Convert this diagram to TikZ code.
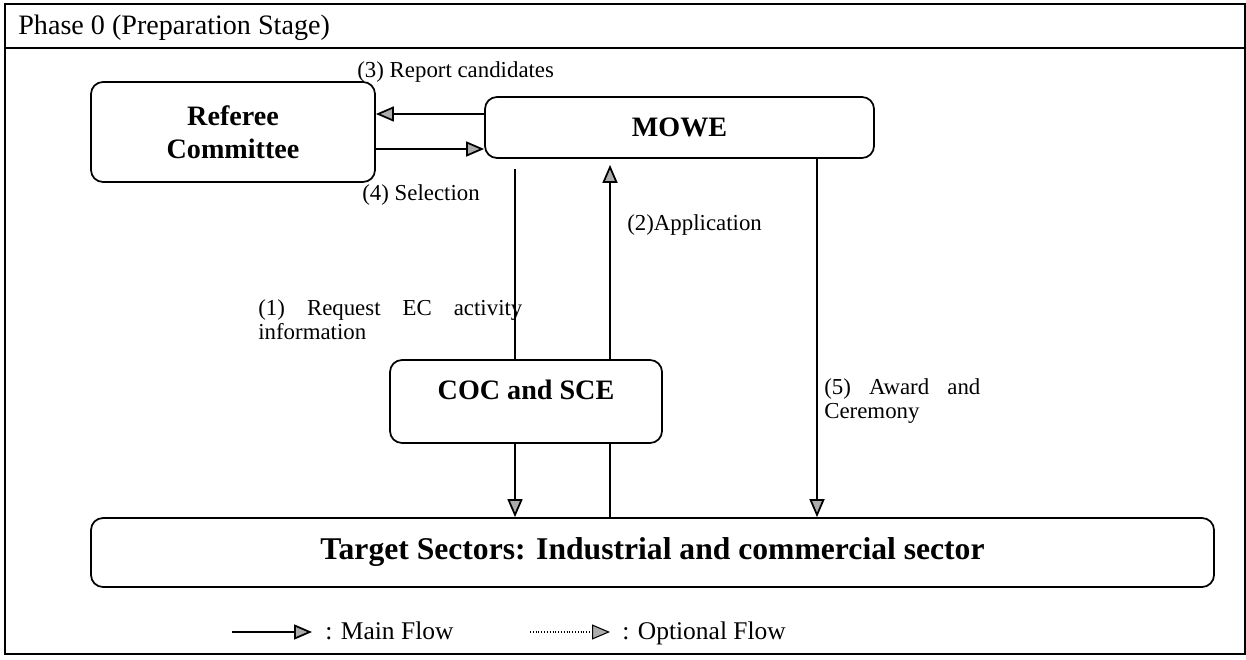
\documentclass[tikz,border=0pt]{standalone}
\usepackage{fontspec}
\setmainfont{Liberation Serif}
\usetikzlibrary{arrows.meta}
\tikzset{
  box/.style={draw, line width=1pt, rounded corners=0.24cm, inner sep=0pt,
    font=\fontsize{16}{19}\selectfont\bfseries, align=center},
  flow/.style={line width=1pt, -{Triangle[length=0.36cm,width=0.3cm,fill=gray!65]}},
  plain/.style={line width=1pt},
  lbl/.style={font=\fontsize{13}{14.2}\selectfont, inner sep=0pt},
  legend/.style={font=\fontsize{14.5}{17}\selectfont, inner sep=0pt, anchor=base west},
}

\begin{document}
\begin{tikzpicture}
  \useasboundingbox (0,0) rectangle (24.92,-13.2);
  % frame and heading
  \draw[line width=0.8pt] (0.1,-0.08) rectangle (24.9,-13.08);
  \draw[line width=0.8pt] (0.1,-0.96) -- (24.9,-0.96);
  \node[anchor=west, inner sep=0pt, font=\fontsize{16}{19}\selectfont] (title) at (0.36,-0.56) {Phase 0 (Preparation Stage)};

  % boxes
  \node[box, minimum width=5.68cm, minimum height=2cm] (referee) at (4.66,-2.64) {Referee\\Committee};
  \node[box, minimum width=7.78cm, minimum height=1.22cm] (mowe) at (13.59,-2.55) {MOWE};
  \node[box, minimum width=5.44cm, text height=0.79cm, text depth=0.87cm] (coc) at (10.52,-8.03) {COC and SCE};
  \node[box, minimum width=22.46cm, minimum height=1.38cm, font=\fontsize{18}{20}\selectfont\bfseries] (target) at (13.05,-11.05) {Target Sectors: Industrial and commercial sector};

  % flows
  \draw[flow] ([yshift=0.27cm]mowe.west) -- ([yshift=0.36cm]referee.east);
  \draw[flow] ([yshift=-0.34cm]referee.east) -- ([yshift=-0.43cm]mowe.west);
  \draw[plain, shorten <=0.2cm] ([xshift=-0.22cm]coc.north |- mowe.south) -- ([xshift=-0.22cm]coc.north);
  \draw[flow] ([xshift=-0.22cm]coc.south) -- ([xshift=-0.22cm]coc.south |- target.north);
  \draw[plain] ([xshift=1.68cm]coc.south |- target.north) -- ([xshift=1.68cm]coc.south);
  \draw[flow, shorten >=0.12cm] ([xshift=1.68cm]coc.north) -- ([xshift=1.68cm]coc.north |- mowe.south);
  \draw[flow] ([xshift=2.75cm]mowe.south) -- ([xshift=2.75cm]mowe.south |- target.north);

  % labels
  \node[lbl, anchor=west] (report) at (7.14,-1.44) {(3) Report candidates};
  \node[lbl, anchor=west] (select) at (7.24,-3.9) {(4) Selection};
  \node[lbl, anchor=west] (apply) at (12.54,-4.5) {(2)Application};
  \node[lbl, anchor=base west, text width=5.28cm, align=justify] (request) at (5.16,-6.3) {(1) Request EC activity\linebreak information};
  \node[lbl, anchor=base west, text width=3.12cm, align=justify] (award) at (16.48,-7.88) {(5) Award and\linebreak Ceremony};

  % legend
  \node[legend] (mainlab) at (6.5,-12.78) {: Main Flow};
  \node[legend] (optlab) at (12.44,-12.78) {: Optional Flow};
  \draw[flow] ([xshift=-1.86cm,yshift=0.14cm]mainlab.base west) -- ([xshift=-0.26cm,yshift=0.14cm]mainlab.base west);
  \draw[flow, line width=0.6pt, densely dotted] ([xshift=-1.84cm,yshift=0.14cm]optlab.base west) -- ([xshift=-0.24cm,yshift=0.14cm]optlab.base west);
\end{tikzpicture}
\end{document}
